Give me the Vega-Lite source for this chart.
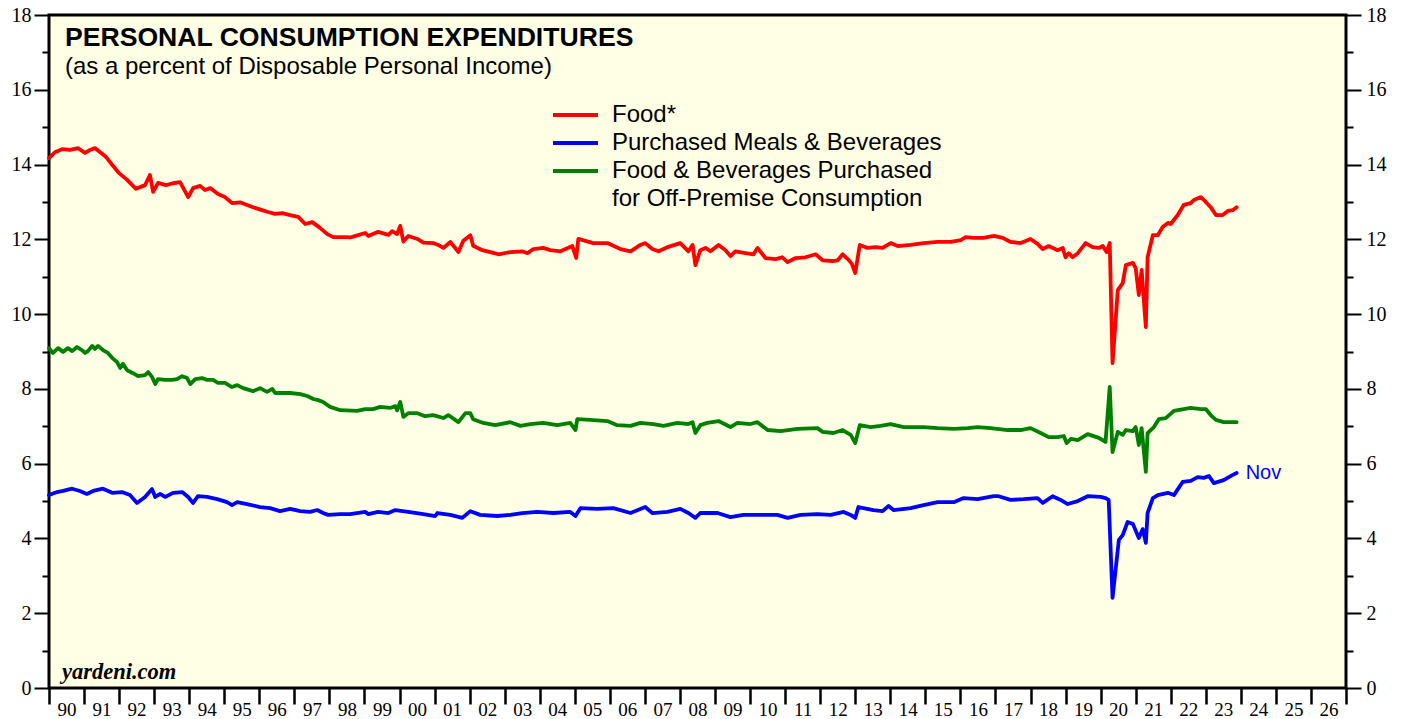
{
"$schema": "https://vega.github.io/schema/vega-lite/v6.json",
"width": 1297,
"height": 673,
"autosize": {"type": "none"},
"padding": {"left": 49, "top": 15, "right": 59, "bottom": 31},
"background": "white",
"config": {"view": {"stroke": "black", "strokeWidth": 3, "fill": "#FFFFE5"}, "font": "Liberation Sans"},
"title": {"text": "PERSONAL CONSUMPTION EXPENDITURES", "subtitle": "(as a percent of Disposable Personal Income)", "anchor": "start", "frame": "group", "orient": "top", "offset": -74, "dx": 16, "font": "Liberation Sans", "fontSize": 26.6, "fontWeight": "bold", "color": "black", "subtitleFont": "Liberation Sans", "subtitleFontSize": 24, "subtitleColor": "black", "subtitlePadding": 3},
"datasets": {"pce": [
{"s":"f","t":1990.0,"v":14.17},{"s":"f","t":1990.17,"v":14.33},{"s":"f","t":1990.37,"v":14.41},{"s":"f","t":1990.6,"v":14.39},{"s":"f","t":1990.83,"v":14.44},{"s":"f","t":1991.03,"v":14.31},{"s":"f","t":1991.17,"v":14.39},{"s":"f","t":1991.31,"v":14.44},{"s":"f","t":1991.46,"v":14.33},{"s":"f","t":1991.63,"v":14.2},{"s":"f","t":1991.83,"v":13.96},{"s":"f","t":1992.0,"v":13.77},{"s":"f","t":1992.23,"v":13.59},{"s":"f","t":1992.48,"v":13.35},{"s":"f","t":1992.74,"v":13.45},{"s":"f","t":1992.88,"v":13.72},{"s":"f","t":1992.97,"v":13.27},{"s":"f","t":1993.11,"v":13.51},{"s":"f","t":1993.34,"v":13.45},{"s":"f","t":1993.54,"v":13.5},{"s":"f","t":1993.74,"v":13.53},{"s":"f","t":1993.97,"v":13.13},{"s":"f","t":1994.11,"v":13.37},{"s":"f","t":1994.31,"v":13.43},{"s":"f","t":1994.45,"v":13.32},{"s":"f","t":1994.6,"v":13.37},{"s":"f","t":1994.82,"v":13.21},{"s":"f","t":1995.02,"v":13.13},{"s":"f","t":1995.22,"v":12.97},{"s":"f","t":1995.45,"v":12.99},{"s":"f","t":1995.65,"v":12.92},{"s":"f","t":1995.88,"v":12.84},{"s":"f","t":1996.08,"v":12.78},{"s":"f","t":1996.25,"v":12.73},{"s":"f","t":1996.45,"v":12.68},{"s":"f","t":1996.65,"v":12.7},{"s":"f","t":1996.88,"v":12.65},{"s":"f","t":1997.11,"v":12.6},{"s":"f","t":1997.31,"v":12.41},{"s":"f","t":1997.51,"v":12.46},{"s":"f","t":1997.74,"v":12.3},{"s":"f","t":1997.94,"v":12.14},{"s":"f","t":1998.11,"v":12.06},{"s":"f","t":1998.45,"v":12.06},{"s":"f","t":1998.59,"v":12.05},{"s":"f","t":1998.77,"v":12.1},{"s":"f","t":1999.02,"v":12.17},{"s":"f","t":1999.11,"v":12.09},{"s":"f","t":1999.39,"v":12.2},{"s":"f","t":1999.68,"v":12.12},{"s":"f","t":1999.79,"v":12.22},{"s":"f","t":1999.93,"v":12.14},{"s":"f","t":2000.02,"v":12.36},{"s":"f","t":2000.11,"v":11.94},{"s":"f","t":2000.25,"v":12.09},{"s":"f","t":2000.51,"v":12.01},{"s":"f","t":2000.68,"v":11.91},{"s":"f","t":2000.96,"v":11.9},{"s":"f","t":2001.1,"v":11.85},{"s":"f","t":2001.25,"v":11.77},{"s":"f","t":2001.45,"v":11.93},{"s":"f","t":2001.68,"v":11.66},{"s":"f","t":2001.82,"v":11.96},{"s":"f","t":2002.02,"v":12.11},{"s":"f","t":2002.1,"v":11.83},{"s":"f","t":2002.36,"v":11.71},{"s":"f","t":2002.59,"v":11.66},{"s":"f","t":2002.82,"v":11.6},{"s":"f","t":2003.16,"v":11.66},{"s":"f","t":2003.5,"v":11.68},{"s":"f","t":2003.65,"v":11.63},{"s":"f","t":2003.82,"v":11.74},{"s":"f","t":2004.1,"v":11.77},{"s":"f","t":2004.3,"v":11.71},{"s":"f","t":2004.59,"v":11.68},{"s":"f","t":2004.93,"v":11.82},{"s":"f","t":2005.04,"v":11.5},{"s":"f","t":2005.1,"v":12.01},{"s":"f","t":2005.3,"v":11.96},{"s":"f","t":2005.53,"v":11.9},{"s":"f","t":2005.93,"v":11.9},{"s":"f","t":2006.3,"v":11.74},{"s":"f","t":2006.59,"v":11.68},{"s":"f","t":2006.87,"v":11.85},{"s":"f","t":2007.01,"v":11.9},{"s":"f","t":2007.21,"v":11.74},{"s":"f","t":2007.39,"v":11.68},{"s":"f","t":2007.64,"v":11.79},{"s":"f","t":2008.01,"v":11.9},{"s":"f","t":2008.24,"v":11.68},{"s":"f","t":2008.36,"v":11.85},{"s":"f","t":2008.44,"v":11.31},{"s":"f","t":2008.58,"v":11.71},{"s":"f","t":2008.73,"v":11.77},{"s":"f","t":2008.87,"v":11.68},{"s":"f","t":2009.1,"v":11.85},{"s":"f","t":2009.3,"v":11.71},{"s":"f","t":2009.44,"v":11.55},{"s":"f","t":2009.58,"v":11.68},{"s":"f","t":2009.87,"v":11.63},{"s":"f","t":2010.1,"v":11.6},{"s":"f","t":2010.21,"v":11.77},{"s":"f","t":2010.44,"v":11.5},{"s":"f","t":2010.73,"v":11.47},{"s":"f","t":2010.92,"v":11.52},{"s":"f","t":2011.07,"v":11.39},{"s":"f","t":2011.3,"v":11.5},{"s":"f","t":2011.58,"v":11.52},{"s":"f","t":2011.87,"v":11.6},{"s":"f","t":2012.07,"v":11.44},{"s":"f","t":2012.35,"v":11.42},{"s":"f","t":2012.5,"v":11.44},{"s":"f","t":2012.64,"v":11.6},{"s":"f","t":2012.81,"v":11.45},{"s":"f","t":2012.9,"v":11.35},{"s":"f","t":2013.0,"v":11.1},{"s":"f","t":2013.13,"v":11.85},{"s":"f","t":2013.35,"v":11.77},{"s":"f","t":2013.58,"v":11.79},{"s":"f","t":2013.78,"v":11.77},{"s":"f","t":2014.01,"v":11.9},{"s":"f","t":2014.21,"v":11.82},{"s":"f","t":2014.58,"v":11.85},{"s":"f","t":2014.95,"v":11.9},{"s":"f","t":2015.35,"v":11.93},{"s":"f","t":2015.72,"v":11.93},{"s":"f","t":2016.01,"v":11.98},{"s":"f","t":2016.15,"v":12.06},{"s":"f","t":2016.38,"v":12.04},{"s":"f","t":2016.66,"v":12.04},{"s":"f","t":2016.95,"v":12.09},{"s":"f","t":2017.21,"v":12.04},{"s":"f","t":2017.43,"v":11.93},{"s":"f","t":2017.72,"v":11.9},{"s":"f","t":2018.0,"v":12.01},{"s":"f","t":2018.2,"v":11.88},{"s":"f","t":2018.35,"v":11.74},{"s":"f","t":2018.52,"v":11.82},{"s":"f","t":2018.77,"v":11.71},{"s":"f","t":2018.92,"v":11.77},{"s":"f","t":2019.0,"v":11.52},{"s":"f","t":2019.09,"v":11.63},{"s":"f","t":2019.2,"v":11.52},{"s":"f","t":2019.35,"v":11.63},{"s":"f","t":2019.57,"v":11.9},{"s":"f","t":2019.77,"v":11.79},{"s":"f","t":2019.95,"v":11.77},{"s":"f","t":2020.06,"v":11.82},{"s":"f","t":2020.17,"v":11.66},{"s":"f","t":2020.26,"v":11.9},{"s":"f","t":2020.34,"v":8.69},{"s":"f","t":2020.49,"v":10.64},{"s":"f","t":2020.63,"v":10.83},{"s":"f","t":2020.72,"v":11.31},{"s":"f","t":2020.92,"v":11.37},{"s":"f","t":2021.0,"v":11.23},{"s":"f","t":2021.09,"v":10.51},{"s":"f","t":2021.17,"v":11.18},{"s":"f","t":2021.29,"v":9.65},{"s":"f","t":2021.34,"v":11.52},{"s":"f","t":2021.49,"v":12.11},{"s":"f","t":2021.63,"v":12.11},{"s":"f","t":2021.77,"v":12.33},{"s":"f","t":2021.92,"v":12.44},{"s":"f","t":2022.0,"v":12.41},{"s":"f","t":2022.2,"v":12.65},{"s":"f","t":2022.37,"v":12.92},{"s":"f","t":2022.57,"v":12.97},{"s":"f","t":2022.66,"v":13.05},{"s":"f","t":2022.86,"v":13.13},{"s":"f","t":2023.0,"v":13.0},{"s":"f","t":2023.14,"v":12.86},{"s":"f","t":2023.29,"v":12.65},{"s":"f","t":2023.48,"v":12.65},{"s":"f","t":2023.63,"v":12.76},{"s":"f","t":2023.77,"v":12.78},{"s":"f","t":2023.88,"v":12.86},
{"s":"o","t":1990.0,"v":9.09},{"s":"o","t":1990.11,"v":8.96},{"s":"o","t":1990.26,"v":9.09},{"s":"o","t":1990.4,"v":8.99},{"s":"o","t":1990.54,"v":9.09},{"s":"o","t":1990.66,"v":9.01},{"s":"o","t":1990.8,"v":9.12},{"s":"o","t":1990.94,"v":9.04},{"s":"o","t":1991.03,"v":8.96},{"s":"o","t":1991.11,"v":9.01},{"s":"o","t":1991.23,"v":9.15},{"s":"o","t":1991.31,"v":9.07},{"s":"o","t":1991.4,"v":9.15},{"s":"o","t":1991.54,"v":9.04},{"s":"o","t":1991.68,"v":8.96},{"s":"o","t":1991.8,"v":8.83},{"s":"o","t":1991.94,"v":8.72},{"s":"o","t":1992.03,"v":8.56},{"s":"o","t":1992.11,"v":8.67},{"s":"o","t":1992.23,"v":8.5},{"s":"o","t":1992.4,"v":8.42},{"s":"o","t":1992.54,"v":8.34},{"s":"o","t":1992.74,"v":8.37},{"s":"o","t":1992.83,"v":8.45},{"s":"o","t":1992.94,"v":8.32},{"s":"o","t":1993.03,"v":8.13},{"s":"o","t":1993.11,"v":8.26},{"s":"o","t":1993.31,"v":8.24},{"s":"o","t":1993.51,"v":8.24},{"s":"o","t":1993.65,"v":8.26},{"s":"o","t":1993.8,"v":8.34},{"s":"o","t":1993.94,"v":8.29},{"s":"o","t":1994.03,"v":8.13},{"s":"o","t":1994.17,"v":8.26},{"s":"o","t":1994.37,"v":8.29},{"s":"o","t":1994.51,"v":8.24},{"s":"o","t":1994.68,"v":8.24},{"s":"o","t":1994.82,"v":8.16},{"s":"o","t":1995.02,"v":8.16},{"s":"o","t":1995.22,"v":8.05},{"s":"o","t":1995.37,"v":8.1},{"s":"o","t":1995.54,"v":8.02},{"s":"o","t":1995.82,"v":7.94},{"s":"o","t":1996.02,"v":8.02},{"s":"o","t":1996.22,"v":7.92},{"s":"o","t":1996.37,"v":8.0},{"s":"o","t":1996.45,"v":7.89},{"s":"o","t":1996.65,"v":7.89},{"s":"o","t":1996.88,"v":7.89},{"s":"o","t":1997.17,"v":7.86},{"s":"o","t":1997.37,"v":7.81},{"s":"o","t":1997.54,"v":7.73},{"s":"o","t":1997.68,"v":7.7},{"s":"o","t":1997.82,"v":7.65},{"s":"o","t":1998.02,"v":7.52},{"s":"o","t":1998.31,"v":7.43},{"s":"o","t":1998.79,"v":7.41},{"s":"o","t":1999.02,"v":7.46},{"s":"o","t":1999.25,"v":7.46},{"s":"o","t":1999.45,"v":7.52},{"s":"o","t":1999.73,"v":7.49},{"s":"o","t":1999.88,"v":7.54},{"s":"o","t":1999.93,"v":7.43},{"s":"o","t":2000.02,"v":7.65},{"s":"o","t":2000.11,"v":7.25},{"s":"o","t":2000.25,"v":7.35},{"s":"o","t":2000.51,"v":7.35},{"s":"o","t":2000.73,"v":7.27},{"s":"o","t":2000.96,"v":7.3},{"s":"o","t":2001.25,"v":7.22},{"s":"o","t":2001.39,"v":7.3},{"s":"o","t":2001.68,"v":7.11},{"s":"o","t":2001.88,"v":7.35},{"s":"o","t":2002.02,"v":7.35},{"s":"o","t":2002.1,"v":7.19},{"s":"o","t":2002.39,"v":7.09},{"s":"o","t":2002.73,"v":7.03},{"s":"o","t":2003.16,"v":7.11},{"s":"o","t":2003.45,"v":7.01},{"s":"o","t":2003.73,"v":7.06},{"s":"o","t":2004.1,"v":7.09},{"s":"o","t":2004.5,"v":7.03},{"s":"o","t":2004.87,"v":7.09},{"s":"o","t":2005.02,"v":6.9},{"s":"o","t":2005.07,"v":7.19},{"s":"o","t":2005.44,"v":7.17},{"s":"o","t":2005.93,"v":7.14},{"s":"o","t":2006.21,"v":7.03},{"s":"o","t":2006.59,"v":7.01},{"s":"o","t":2006.87,"v":7.09},{"s":"o","t":2007.24,"v":7.06},{"s":"o","t":2007.53,"v":7.01},{"s":"o","t":2007.93,"v":7.09},{"s":"o","t":2008.24,"v":7.06},{"s":"o","t":2008.36,"v":7.11},{"s":"o","t":2008.44,"v":6.82},{"s":"o","t":2008.58,"v":7.03},{"s":"o","t":2008.78,"v":7.09},{"s":"o","t":2009.1,"v":7.14},{"s":"o","t":2009.44,"v":6.98},{"s":"o","t":2009.64,"v":7.09},{"s":"o","t":2010.01,"v":7.06},{"s":"o","t":2010.21,"v":7.11},{"s":"o","t":2010.5,"v":6.9},{"s":"o","t":2010.87,"v":6.87},{"s":"o","t":2011.35,"v":6.93},{"s":"o","t":2011.92,"v":6.95},{"s":"o","t":2012.07,"v":6.85},{"s":"o","t":2012.38,"v":6.82},{"s":"o","t":2012.64,"v":6.9},{"s":"o","t":2012.87,"v":6.77},{"s":"o","t":2013.0,"v":6.55},{"s":"o","t":2013.13,"v":7.03},{"s":"o","t":2013.44,"v":6.98},{"s":"o","t":2013.72,"v":7.01},{"s":"o","t":2014.01,"v":7.06},{"s":"o","t":2014.38,"v":6.98},{"s":"o","t":2014.95,"v":6.98},{"s":"o","t":2015.35,"v":6.95},{"s":"o","t":2015.81,"v":6.93},{"s":"o","t":2016.21,"v":6.95},{"s":"o","t":2016.49,"v":6.98},{"s":"o","t":2016.86,"v":6.95},{"s":"o","t":2017.35,"v":6.9},{"s":"o","t":2017.72,"v":6.9},{"s":"o","t":2018.0,"v":6.95},{"s":"o","t":2018.29,"v":6.82},{"s":"o","t":2018.52,"v":6.71},{"s":"o","t":2018.77,"v":6.71},{"s":"o","t":2018.95,"v":6.74},{"s":"o","t":2019.03,"v":6.55},{"s":"o","t":2019.15,"v":6.66},{"s":"o","t":2019.35,"v":6.63},{"s":"o","t":2019.63,"v":6.79},{"s":"o","t":2019.95,"v":6.69},{"s":"o","t":2020.14,"v":6.58},{"s":"o","t":2020.26,"v":8.05},{"s":"o","t":2020.34,"v":6.31},{"s":"o","t":2020.49,"v":6.85},{"s":"o","t":2020.63,"v":6.77},{"s":"o","t":2020.72,"v":6.9},{"s":"o","t":2020.92,"v":6.87},{"s":"o","t":2021.0,"v":6.98},{"s":"o","t":2021.09,"v":6.5},{"s":"o","t":2021.17,"v":6.95},{"s":"o","t":2021.29,"v":5.78},{"s":"o","t":2021.34,"v":6.82},{"s":"o","t":2021.52,"v":6.98},{"s":"o","t":2021.66,"v":7.19},{"s":"o","t":2021.86,"v":7.22},{"s":"o","t":2022.09,"v":7.41},{"s":"o","t":2022.37,"v":7.46},{"s":"o","t":2022.57,"v":7.49},{"s":"o","t":2022.86,"v":7.46},{"s":"o","t":2023.0,"v":7.46},{"s":"o","t":2023.14,"v":7.3},{"s":"o","t":2023.29,"v":7.17},{"s":"o","t":2023.51,"v":7.11},{"s":"o","t":2023.77,"v":7.11},{"s":"o","t":2023.88,"v":7.11},
{"s":"m","t":1990.0,"v":5.16},{"s":"m","t":1990.23,"v":5.24},{"s":"m","t":1990.4,"v":5.27},{"s":"m","t":1990.66,"v":5.33},{"s":"m","t":1990.88,"v":5.27},{"s":"m","t":1991.08,"v":5.19},{"s":"m","t":1991.26,"v":5.27},{"s":"m","t":1991.54,"v":5.33},{"s":"m","t":1991.8,"v":5.22},{"s":"m","t":1992.08,"v":5.24},{"s":"m","t":1992.31,"v":5.16},{"s":"m","t":1992.51,"v":4.95},{"s":"m","t":1992.74,"v":5.11},{"s":"m","t":1992.94,"v":5.32},{"s":"m","t":1993.03,"v":5.11},{"s":"m","t":1993.17,"v":5.19},{"s":"m","t":1993.31,"v":5.11},{"s":"m","t":1993.54,"v":5.22},{"s":"m","t":1993.8,"v":5.24},{"s":"m","t":1993.97,"v":5.11},{"s":"m","t":1994.11,"v":4.95},{"s":"m","t":1994.25,"v":5.13},{"s":"m","t":1994.51,"v":5.11},{"s":"m","t":1994.8,"v":5.05},{"s":"m","t":1995.08,"v":4.97},{"s":"m","t":1995.22,"v":4.89},{"s":"m","t":1995.37,"v":4.97},{"s":"m","t":1995.65,"v":4.92},{"s":"m","t":1996.02,"v":4.84},{"s":"m","t":1996.31,"v":4.81},{"s":"m","t":1996.59,"v":4.73},{"s":"m","t":1996.88,"v":4.79},{"s":"m","t":1997.17,"v":4.73},{"s":"m","t":1997.45,"v":4.71},{"s":"m","t":1997.65,"v":4.76},{"s":"m","t":1997.82,"v":4.68},{"s":"m","t":1997.96,"v":4.63},{"s":"m","t":1998.31,"v":4.65},{"s":"m","t":1998.59,"v":4.65},{"s":"m","t":1999.02,"v":4.71},{"s":"m","t":1999.11,"v":4.65},{"s":"m","t":1999.39,"v":4.71},{"s":"m","t":1999.68,"v":4.68},{"s":"m","t":1999.88,"v":4.76},{"s":"m","t":2000.25,"v":4.71},{"s":"m","t":2000.68,"v":4.65},{"s":"m","t":2001.02,"v":4.6},{"s":"m","t":2001.08,"v":4.68},{"s":"m","t":2001.45,"v":4.63},{"s":"m","t":2001.79,"v":4.55},{"s":"m","t":2002.02,"v":4.73},{"s":"m","t":2002.3,"v":4.63},{"s":"m","t":2002.79,"v":4.6},{"s":"m","t":2003.16,"v":4.63},{"s":"m","t":2003.5,"v":4.68},{"s":"m","t":2003.93,"v":4.71},{"s":"m","t":2004.39,"v":4.68},{"s":"m","t":2004.87,"v":4.71},{"s":"m","t":2005.02,"v":4.6},{"s":"m","t":2005.16,"v":4.81},{"s":"m","t":2005.64,"v":4.79},{"s":"m","t":2006.1,"v":4.81},{"s":"m","t":2006.59,"v":4.68},{"s":"m","t":2007.01,"v":4.84},{"s":"m","t":2007.21,"v":4.68},{"s":"m","t":2007.64,"v":4.71},{"s":"m","t":2008.01,"v":4.79},{"s":"m","t":2008.24,"v":4.68},{"s":"m","t":2008.44,"v":4.55},{"s":"m","t":2008.58,"v":4.68},{"s":"m","t":2009.07,"v":4.68},{"s":"m","t":2009.44,"v":4.57},{"s":"m","t":2009.81,"v":4.63},{"s":"m","t":2010.21,"v":4.63},{"s":"m","t":2010.78,"v":4.63},{"s":"m","t":2011.07,"v":4.55},{"s":"m","t":2011.44,"v":4.63},{"s":"m","t":2011.92,"v":4.65},{"s":"m","t":2012.3,"v":4.63},{"s":"m","t":2012.67,"v":4.71},{"s":"m","t":2012.87,"v":4.63},{"s":"m","t":2013.0,"v":4.55},{"s":"m","t":2013.09,"v":4.84},{"s":"m","t":2013.52,"v":4.76},{"s":"m","t":2013.78,"v":4.73},{"s":"m","t":2013.95,"v":4.87},{"s":"m","t":2014.09,"v":4.76},{"s":"m","t":2014.58,"v":4.81},{"s":"m","t":2014.95,"v":4.89},{"s":"m","t":2015.35,"v":4.97},{"s":"m","t":2015.81,"v":4.97},{"s":"m","t":2016.09,"v":5.08},{"s":"m","t":2016.49,"v":5.05},{"s":"m","t":2016.95,"v":5.13},{"s":"m","t":2017.09,"v":5.13},{"s":"m","t":2017.43,"v":5.03},{"s":"m","t":2017.8,"v":5.05},{"s":"m","t":2018.2,"v":5.08},{"s":"m","t":2018.35,"v":4.95},{"s":"m","t":2018.63,"v":5.13},{"s":"m","t":2018.86,"v":5.03},{"s":"m","t":2019.06,"v":4.92},{"s":"m","t":2019.35,"v":5.0},{"s":"m","t":2019.63,"v":5.13},{"s":"m","t":2020.0,"v":5.11},{"s":"m","t":2020.14,"v":5.08},{"s":"m","t":2020.23,"v":5.03},{"s":"m","t":2020.34,"v":2.41},{"s":"m","t":2020.52,"v":3.96},{"s":"m","t":2020.63,"v":4.09},{"s":"m","t":2020.77,"v":4.44},{"s":"m","t":2020.92,"v":4.39},{"s":"m","t":2021.09,"v":4.01},{"s":"m","t":2021.2,"v":4.25},{"s":"m","t":2021.29,"v":3.88},{"s":"m","t":2021.34,"v":4.68},{"s":"m","t":2021.49,"v":5.08},{"s":"m","t":2021.63,"v":5.16},{"s":"m","t":2021.92,"v":5.22},{"s":"m","t":2022.09,"v":5.16},{"s":"m","t":2022.34,"v":5.51},{"s":"m","t":2022.57,"v":5.54},{"s":"m","t":2022.77,"v":5.64},{"s":"m","t":2022.94,"v":5.62},{"s":"m","t":2023.09,"v":5.67},{"s":"m","t":2023.23,"v":5.48},{"s":"m","t":2023.51,"v":5.56},{"s":"m","t":2023.77,"v":5.7},{"s":"m","t":2023.88,"v":5.75}
]},
"layer": [
{"data": {"name": "pce"},
 "transform": [{"filter": "datum.s == 'm' && datum.t > 2023.8"}],
 "mark": {"type": "text", "text": "Nov", "align": "left", "baseline": "middle", "dx": 9, "font": "Liberation Sans", "fontSize": 20, "color": "#0000FF"},
 "encoding": {
  "x": {"field": "t", "type": "quantitative", "axis": null},
  "y": {"field": "v", "type": "quantitative", "axis": null}}},
{"data": {"values": [{}]},
 "mark": {"type": "text", "text": "yardeni.com", "align": "left", "baseline": "alphabetic", "font": "Liberation Serif", "fontSize": 22.5, "fontWeight": "bold", "fontStyle": "italic", "color": "black"},
 "encoding": {
  "x": {"datum": 1990.37, "type": "quantitative", "axis": null},
  "y": {"datum": 0.24, "type": "quantitative", "axis": null}}},
{"data": {"values": [{}]},
 "mark": {"type": "rule", "opacity": 0},
 "encoding": {
  "y": {"datum": 0, "type": "quantitative",
   "axis": {"orient": "right", "values": [0,1,2,3,4,5,6,7,8,9,10,11,12,13,14,15,16,17,18], "title": null, "domain": false, "grid": false,
    "tickSize": {"condition": {"test": "datum.value % 2 == 1", "value": 7}, "value": 15}, "tickWidth": 2, "tickColor": "black",
    "labelPadding": 5, "labelFont": "Liberation Serif", "labelFontSize": 20, "labelColor": "black", "labelFlush": false, "labelOverlap": false,
    "labelExpr": "datum.value % 2 == 0 ? datum.label : ''"}}}},
{"data": {"name": "pce"},
 "mark": {"type": "line", "strokeWidth": 3.8, "strokeJoin": "round", "strokeCap": "round"},
 "encoding": {
  "x": {"field": "t", "type": "quantitative", "scale": {"domain": [1990, 2027], "nice": false, "zero": false},
   "axis": {"orient": "bottom", "values": [1990,1991,1992,1993,1994,1995,1996,1997,1998,1999,2000,2001,2002,2003,2004,2005,2006,2007,2008,2009,2010,2011,2012,2013,2014,2015,2016,2017,2018,2019,2020,2021,2022,2023,2024,2025,2026,2027],
    "title": null, "domain": false, "grid": false, "tickSize": 16, "tickWidth": 2.5, "tickColor": "black",
    "labelOffset": 17.5, "labelPadding": -4, "labelFont": "Liberation Serif", "labelFontSize": 19, "labelColor": "black",
    "labelFlush": false, "labelOverlap": false, "labelBound": false, "labelSeparation": 0,
    "labelExpr": "datum.value >= 2027 ? '' : format(datum.value % 100, '02d')"}},
  "y": {"field": "v", "type": "quantitative", "scale": {"domain": [0, 18], "nice": false, "zero": false},
   "axis": {"orient": "left", "values": [0,1,2,3,4,5,6,7,8,9,10,11,12,13,14,15,16,17,18], "title": null, "domain": false, "grid": false,
    "tickSize": {"condition": {"test": "datum.value % 2 == 1", "value": 7}, "value": 15}, "tickWidth": 2, "tickColor": "black",
    "labelPadding": 3, "labelFont": "Liberation Serif", "labelFontSize": 20, "labelColor": "black", "labelFlush": false, "labelOverlap": false,
    "labelExpr": "datum.value % 2 == 0 ? datum.label : ''"}},
  "color": {"field": "s", "type": "nominal",
   "scale": {"domain": ["f", "m", "o", "x"], "range": ["#FF0000", "#0000FF", "#008000", "transparent"]},
   "legend": {"orient": "none", "legendX": 511, "legendY": 84.5, "title": null, "padding": 0, "symbolType": "M-1.667,0H1.667", "symbolSize": 729, "symbolStrokeWidth": 4,
    "labelFont": "Liberation Sans", "labelFontSize": 24, "labelColor": "black", "labelOffset": 21, "rowPadding": 0, "labelLimit": 600,
    "labelExpr": "datum.value == 'f' ? 'Food*' : datum.value == 'm' ? 'Purchased Meals & Beverages' : datum.value == 'o' ? 'Food & Beverages Purchased' : 'for Off-Premise Consumption'"}}
 }}
],
"resolve": {"axis": {"x": "independent", "y": "independent"}}
}
